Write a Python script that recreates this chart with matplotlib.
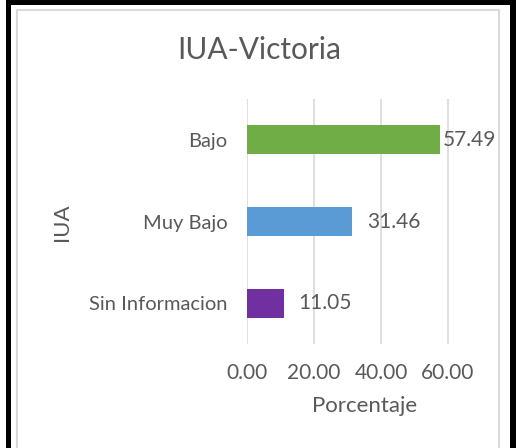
import matplotlib
matplotlib.use("Agg")
import matplotlib.pyplot as plt
from matplotlib.patches import Rectangle
from matplotlib.lines import Line2D

# datos
categorias = ["Sin Informacion", "Muy Bajo", "Bajo"]
porcentajes = [11.05, 31.46, 57.49]
colores = ["#7030A0", "#5B9BD5", "#70AD47"]
ticks = [0, 20, 40, 60]

gris = "#595959"
plt.rcParams["font.family"] = ["Lato", "DejaVu Sans"]

fig = plt.figure(figsize=(5.16, 4.48), dpi=100)
W, H = 516, 448

# marco negro: izquierda, arriba, derecha
for x, y, w, h in [(6, 0, 5, H), (6, 0, W - 6, 5), (510, 0, 6, H)]:
    fig.add_artist(Rectangle((x / W, 1 - (y + h) / H), w / W, h / H, transform=fig.transFigure,
                             facecolor="black", edgecolor="none"))
# borde gris del area del grafico
fig.add_artist(Line2D([17 / W, 17 / W, 499 / W, 499 / W], [0, 1 - 10 / H, 1 - 10 / H, 0],
                      transform=fig.transFigure, color="#D9D9D9", lw=1.5))

ax = fig.add_axes([247 / W, 1 - 344 / H, 234.5 / W, 245 / H])
ax.barh(categorias, porcentajes, color=colores, height=0.355, zorder=3)
ax.set_xlim(0, 70)
ax.set_ylim(-0.5, 2.5)
ax.set_xticks(ticks)
ax.set_xticklabels([f"{t:.2f}" for t in ticks])
ax.grid(axis="x", color="#D9D9D9", lw=1.2, zorder=0)
for s in ax.spines.values():
    s.set_visible(False)
ax.tick_params(length=0, colors=gris)
ax.tick_params(axis="x", pad=14, labelsize=15)
ax.tick_params(axis="y", pad=14, labelsize=14.5)

# etiquetas de datos
for i, v in enumerate(porcentajes):
    ax.text(v + (1.0 if v > 50 else 4.4), i, f"{v:.2f}", va="center", ha="left",
            fontsize=15, color=gris)

ax.set_xlabel("Porcentaje", fontsize=16, color=gris, labelpad=9)
fig.text(62 / W, 1 - 222 / H, "IUA", rotation=90, fontsize=16, color=gris,
         ha="center", va="center")
fig.text(259 / W, 1 - 50 / H, "IUA-Victoria", fontsize=21.5, color=gris,
         ha="center", va="center")

fig.savefig("out.png", dpi=100)
